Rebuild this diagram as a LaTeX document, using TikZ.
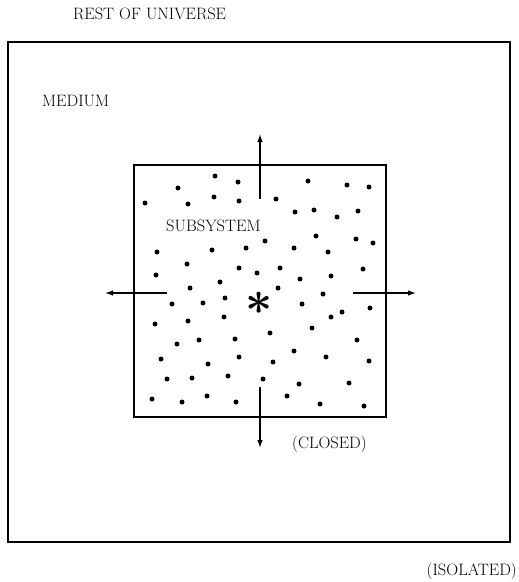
\documentclass[tikz,border=0pt]{standalone}
\usepackage{graphicx}
\usepackage{tikz}
\usetikzlibrary{arrows.meta, positioning, calc}

\begin{document}
\begin{tikzpicture}[x=1pt, y=-1pt,
    every node/.style={font=\fontsize{16.5}{18}\selectfont, inner sep=0pt},
    flow/.style={-{Latex[length=8pt, width=5.5pt]}, line width=1.2pt},
    wall/.style={line width=1.7pt}]
  \useasboundingbox (0,0) rectangle (519,582);

  % --- Data: particle positions inside the subsystem (x/y in px)
  \def\dotdata{
    215/176, 238/182, 178/188, 145/203, 188/204, 214/197, 239/201,
    308/181, 347/185, 369/187, 276/199, 295/212, 314/210, 337/217, 358/211,
    157/252, 212/250, 246/248, 265/241, 316/236, 356/239, 373/243, 294/248, 328/252,
    187/264, 156/275, 239/268, 257/273, 280/268, 300/279, 331/276, 363/269,
    190/288, 220/282, 278/288, 323/294,
    172/304, 203/303, 225/298, 302/304, 342/312, 331/317, 370/308,
    155/324, 188/321, 224/317, 270/333, 312/328,
    177/344, 199/340, 235/339, 357/340, 294/351,
    161/359, 208/364, 239/357, 326/357, 273/362, 369/361,
    167/379, 192/378, 228/376, 263/379, 299/384, 349/383,
    152/399, 182/402, 207/396, 236/402, 287/396, 320/404, 364/406
  }

  % Outer box (medium) and inner box (subsystem)
  \draw[wall] (8,42) rectangle (510,542);
  \draw[wall] (134,165) rectangle (386,417);

  % Particles
  \foreach \x/\y in \dotdata {
    \fill (\x,\y) circle (2.5pt);
  }

  % Labels
  \node[anchor=base west] (universe) at (73,19)  {REST OF UNIVERSE};
  \node[anchor=base west] (medium)   at (42,106) {MEDIUM};
  \node[anchor=base west] (subsys)   at (166,231) {SUBSYSTEM};
  \node[anchor=base west] (closed)   at (292,448) {(CLOSED)};
  \node[anchor=base east] (isolated) at (517,575) {(ISOLATED)};
  \node (star) at (259,303) {\scalebox{1.9}{\Huge\boldmath$\ast$}};

  % Exchange arrows
  \coordinate (up0)    at (260,199); \coordinate (up1)    at (260,134);
  \coordinate (down0)  at (260,387); \coordinate (down1)  at (260,448);
  \coordinate (left0)  at (167,293); \coordinate (left1)  at (105,293);
  \coordinate (right0) at (353,293); \coordinate (right1) at (416,293);
  \foreach \d in {up, down, left, right}
    \draw[flow] (\d0) -- (\d1);
\end{tikzpicture}
\end{document}
